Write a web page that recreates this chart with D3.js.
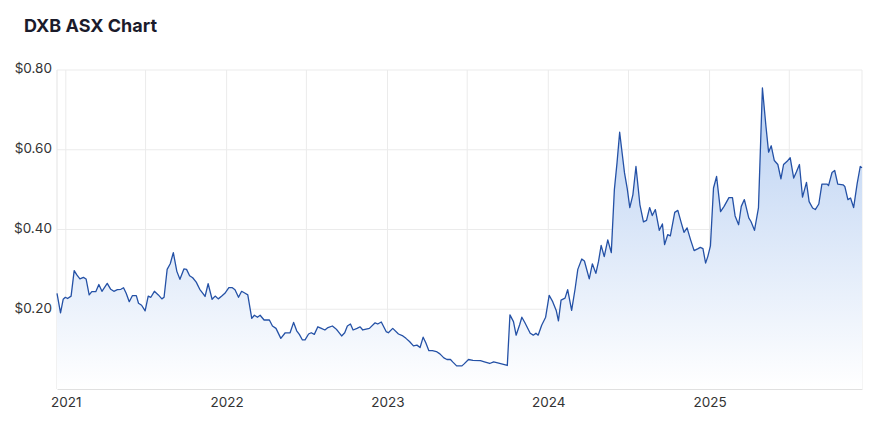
<!DOCTYPE html>
<html>
<head>
<meta charset="utf-8">
<script src="https://cdn.jsdelivr.net/npm/d3@7"></script>
<style>
  body { margin: 0; background: #fff; font-family: Inter, "Noto Sans", sans-serif; }
  .tick text { font-size: 13.5px; fill: #333; font-family: Inter, "Noto Sans", sans-serif; }
</style>
</head>
<body>
<script>
// DXB weekly closes
var dates = [
  "2020-12-12","2020-12-20","2020-12-26","2020-12-31","2021-01-05","2021-01-13","2021-01-20","2021-01-26",
  "2021-02-02","2021-02-10","2021-02-16","2021-02-23","2021-03-01","2021-03-10","2021-03-17","2021-03-24",
  "2021-04-05","2021-04-13","2021-04-20","2021-04-28","2021-05-06","2021-05-12","2021-05-18","2021-05-25",
  "2021-06-01","2021-06-10","2021-06-15","2021-06-22","2021-06-30","2021-07-07","2021-07-13","2021-07-21",
  "2021-07-30","2021-08-07","2021-08-12","2021-08-19","2021-08-26","2021-09-02","2021-09-10","2021-09-17",
  "2021-09-26","2021-10-02","2021-10-09","2021-10-16","2021-10-24","2021-11-01","2021-11-08","2021-11-13",
  "2021-11-20","2021-11-29","2021-12-06","2021-12-13","2021-12-21","2021-12-28","2022-01-06","2022-01-14",
  "2022-01-20","2022-01-28","2022-02-04","2022-02-12","2022-02-18","2022-02-27","2022-03-05","2022-03-12",
  "2022-03-18","2022-03-27","2022-04-08","2022-04-15","2022-04-23","2022-05-04","2022-05-14","2022-05-25",
  "2022-06-02","2022-06-09","2022-06-15","2022-06-22","2022-06-28","2022-07-06","2022-07-12","2022-07-19",
  "2022-07-27","2022-08-04","2022-08-12","2022-08-19","2022-08-29","2022-09-05","2022-09-10","2022-09-19",
  "2022-09-26","2022-10-02","2022-10-09","2022-10-15","2022-10-24","2022-10-31","2022-11-06","2022-11-21",
  "2022-12-04","2022-12-10","2022-12-18","2022-12-29","2023-01-03","2023-01-13","2023-01-26","2023-02-05",
  "2023-02-12","2023-02-20","2023-03-01","2023-03-09","2023-03-16","2023-03-23","2023-03-29","2023-04-05",
  "2023-04-13","2023-04-22","2023-04-30","2023-05-09","2023-05-16","2023-05-24","2023-05-29","2023-06-07",
  "2023-06-19","2023-06-24","2023-07-04","2023-07-14","2023-07-31","2023-08-09","2023-08-21","2023-08-30",
  "2023-09-06","2023-09-17","2023-09-30","2023-10-06","2023-10-14","2023-10-20","2023-10-28","2023-11-02",
  "2023-11-09","2023-11-21","2023-11-28","2023-12-04","2023-12-09","2023-12-17","2023-12-26","2024-01-03",
  "2024-01-11","2024-01-19","2024-01-24","2024-01-30","2024-02-08","2024-02-14","2024-02-23","2024-03-02",
  "2024-03-08","2024-03-17","2024-03-23","2024-04-03","2024-04-10","2024-04-18","2024-04-24","2024-04-30",
  "2024-05-07","2024-05-15","2024-05-23","2024-05-30","2024-06-05","2024-06-11","2024-06-17","2024-06-22",
  "2024-06-28","2024-07-04","2024-07-11","2024-07-18","2024-07-27","2024-08-04","2024-08-11","2024-08-18",
  "2024-08-24","2024-08-31","2024-09-09","2024-09-16","2024-09-21","2024-09-28","2024-10-04","2024-10-14",
  "2024-10-21","2024-10-29","2024-11-04","2024-11-11","2024-11-19","2024-11-27","2024-12-06","2024-12-11",
  "2024-12-17","2024-12-23","2024-12-28","2025-01-03","2025-01-10","2025-01-17","2025-01-26","2025-02-03",
  "2025-02-14","2025-02-22","2025-02-28","2025-03-08","2025-03-14","2025-03-21","2025-03-31","2025-04-05",
  "2025-04-13","2025-04-22","2025-05-01","2025-05-09","2025-05-15","2025-05-21","2025-05-28","2025-06-05",
  "2025-06-12","2025-06-18","2025-06-26","2025-07-03","2025-07-11","2025-07-17","2025-07-24","2025-07-31",
  "2025-08-09","2025-08-15","2025-08-23","2025-08-29","2025-09-06","2025-09-13","2025-09-25","2025-09-28",
  "2025-10-06","2025-10-12","2025-10-19","2025-10-31","2025-11-04","2025-11-11","2025-11-17","2025-11-24",
  "2025-12-02","2025-12-09","2025-12-13"
];

var prices = [
  0.240,0.191,0.225,0.230,0.227,0.233,0.297,0.286,
  0.276,0.280,0.276,0.236,0.244,0.244,0.262,0.245,
  0.265,0.250,0.245,0.249,0.250,0.254,0.240,0.219,
  0.234,0.234,0.215,0.210,0.196,0.233,0.230,0.245,
  0.236,0.226,0.230,0.300,0.314,0.342,0.295,0.275,
  0.301,0.300,0.284,0.279,0.268,0.250,0.240,0.232,
  0.264,0.225,0.233,0.226,0.233,0.240,0.254,0.254,
  0.249,0.230,0.245,0.240,0.236,0.177,0.185,0.180,
  0.185,0.173,0.173,0.158,0.152,0.127,0.141,0.141,
  0.167,0.146,0.137,0.123,0.123,0.138,0.141,0.137,
  0.156,0.152,0.148,0.154,0.158,0.152,0.146,0.133,
  0.141,0.158,0.163,0.148,0.152,0.156,0.148,0.152,
  0.166,0.163,0.168,0.144,0.141,0.152,0.138,0.133,
  0.127,0.119,0.108,0.110,0.104,0.130,0.116,0.096,
  0.096,0.094,0.088,0.078,0.074,0.074,0.068,0.058,
  0.058,0.063,0.074,0.072,0.071,0.068,0.064,0.068,
  0.066,0.063,0.059,0.186,0.169,0.135,0.161,0.180,
  0.166,0.140,0.135,0.140,0.135,0.160,0.180,0.235,
  0.219,0.197,0.171,0.223,0.228,0.249,0.197,0.252,
  0.300,0.326,0.321,0.276,0.314,0.290,0.320,0.360,
  0.332,0.374,0.342,0.500,0.567,0.644,0.588,0.542,
  0.504,0.455,0.487,0.558,0.462,0.419,0.423,0.455,
  0.435,0.450,0.398,0.414,0.362,0.387,0.384,0.443,
  0.448,0.416,0.393,0.404,0.374,0.347,0.352,0.355,
  0.352,0.316,0.332,0.359,0.504,0.533,0.445,0.458,
  0.480,0.480,0.434,0.412,0.458,0.475,0.429,0.420,
  0.398,0.454,0.755,0.659,0.594,0.610,0.573,0.563,
  0.527,0.563,0.571,0.580,0.529,0.544,0.563,0.481,
  0.518,0.470,0.454,0.450,0.464,0.514,0.514,0.510,
  0.543,0.548,0.514,0.512,0.508,0.475,0.479,0.455,
  0.515,0.558,0.555
];

var yTicks = [0.2, 0.4, 0.6, 0.8];
var yearLabels = ["2021", "2022", "2023", "2024", "2025"];
var dateRange = ["2020-12-12", "2025-12-13"];

var width = 890, height = 431;
var margin = {top: 70, right: 28, bottom: 42, left: 57};

var parse = d3.timeParse("%Y-%m-%d");
var data = dates.map(function(d, i) { return {date: parse(d), value: prices[i]}; });

var svg = d3.select("body").
  append("svg").
  attr("width", width).
  attr("height", height);

svg.append("text")
  .attr("x", 24)
  .attr("y", 32)
  .attr("font-size", 18)
  .attr("font-weight", 700)
  .attr("fill", "#1b1b2b")
  .text("DXB ASX Chart");

var x = d3.scaleTime()
  .domain(dateRange.map(parse))
  .range([margin.left, width - margin.right]);

var y = d3.scaleLinear()
  .domain([0, 0.8])
  .range([height - margin.bottom, margin.top]);

var defs = svg.append("defs");
var grad = defs.append("linearGradient")
  .attr("id", "areaFill")
  .attr("x1", 0).attr("y1", 0)
  .attr("x2", 0).attr("y2", 1);
grad.append("stop").attr("offset", "0%").attr("stop-color", "#b9d0f2");
grad.append("stop").attr("offset", "100%").attr("stop-color", "#ffffff");

// half-year vertical grid
var halfYears = d3.timeMonth.every(6).range(x.domain()[0], x.domain()[1]);
svg.append("g")
  .selectAll("line")
  .data(halfYears)
  .enter().append("line")
  .attr("x1", function(d) { return x(d); })
  .attr("x2", function(d) { return x(d); })
  .attr("y1", margin.top)
  .attr("y2", height - margin.bottom)
  .attr("stroke", "#ebebeb");

// horizontal grid
svg.append("g")
  .selectAll("line")
  .data(yTicks)
  .enter().append("line")
  .attr("x1", margin.left)
  .attr("x2", width - margin.right)
  .attr("y1", function(d) { return y(d); })
  .attr("y2", function(d) { return y(d); })
  .attr("stroke", "#ebebeb");

// frame
svg.append("line")
  .attr("x1", margin.left).attr("x2", margin.left)
  .attr("y1", margin.top).attr("y2", height - margin.bottom)
  .attr("stroke", "#e3e3e3");
svg.append("line")
  .attr("x1", width - margin.right).attr("x2", width - margin.right)
  .attr("y1", margin.top).attr("y2", height - margin.bottom)
  .attr("stroke", "#ebebeb");

var area = d3.area()
  .x(function(d) { return x(d.date); })
  .y0(y(0))
  .y1(function(d) { return y(d.value); });

var line = d3.line()
  .x(function(d) { return x(d.date); })
  .y(function(d) { return y(d.value); });

svg.append("path")
  .datum(data)
  .attr("fill", "url(#areaFill)")
  .attr("d", area);

svg.append("path")
  .datum(data)
  .attr("fill", "none")
  .attr("stroke", "#2451a6")
  .attr("stroke-width", 1.3)
  .attr("stroke-linejoin", "round")
  .attr("d", line);

// axes
var xAxis = d3.axisBottom(x)
  .tickValues(yearLabels.map(function(yr) { return parse(yr + "-01-01"); }))
  .tickFormat(d3.timeFormat("%Y"))
  .tickSize(0)
  .tickPadding(8);

var gx = svg.append("g")
  .attr("transform", "translate(0," + (height - margin.bottom) + ")")
  .call(xAxis);
gx.select(".domain").attr("stroke", "#e0e0e0");

var yAxis = d3.axisLeft(y)
  .tickValues(yTicks)
  .tickFormat(function(d) { return "$" + d.toFixed(2); })
  .tickSize(0)
  .tickPadding(5);

var gy = svg.append("g")
  .attr("transform", "translate(" + margin.left + ",0)")
  .call(yAxis);
gy.select(".domain").remove();
gy.selectAll(".tick text").attr("dy", "0.22em");
</script>
</body>
</html>
